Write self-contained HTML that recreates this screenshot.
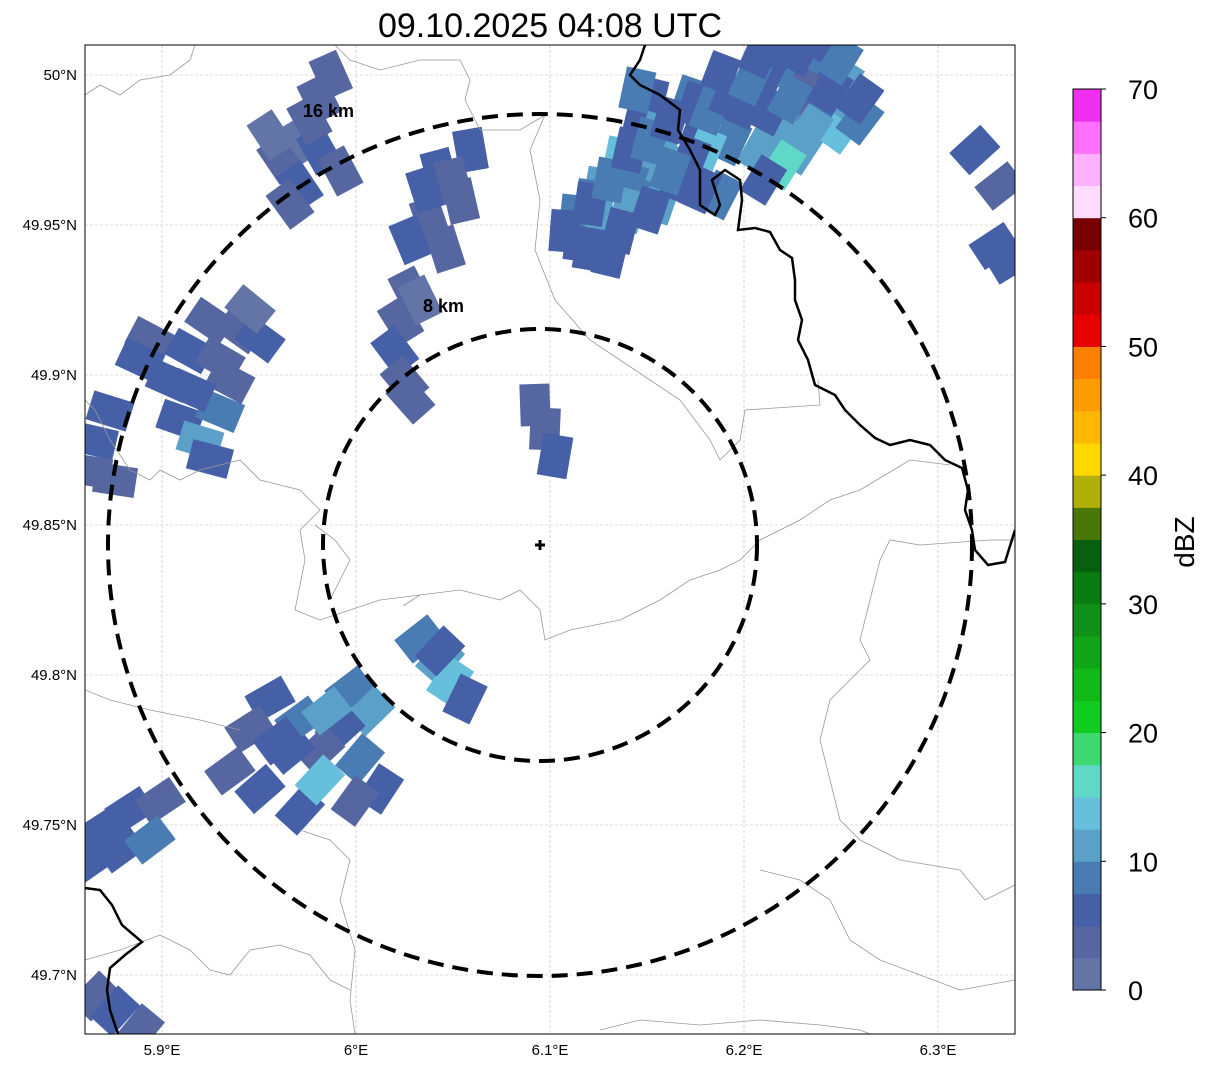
<!DOCTYPE html>
<html><head><meta charset="utf-8"><style>
body{margin:0;background:#fff;width:1207px;height:1069px;overflow:hidden;font-family:"Liberation Sans","DejaVu Sans",sans-serif}
</style></head><body>
<svg id="chart" width="1207" height="1069" xmlns="http://www.w3.org/2000/svg" font-family="Liberation Sans, DejaVu Sans, sans-serif">
<text x="550" y="37" font-size="34" text-anchor="middle">09.10.2025 04:08 UTC</text>
<defs><clipPath id="mapclip"><rect x="85" y="45" width="930" height="989"/></clipPath></defs>
<g id="grid"></g>
<g id="echoes" clip-path="url(#mapclip)"></g>
<g clip-path="url(#mapclip)" fill="none">
<path stroke="#999" stroke-width="0.8" d="M85,95 L100,85 L120,95 L140,80 L170,75 L190,60 L195,45 M335,45 L350,60 L380,70 L420,60 L460,60 L470,80 L465,100 L480,130 L520,130 L545,115 L530,150 L540,200 L535,250 L555,300 L590,340 L620,360 L650,380 L680,400 L710,440 L720,460 L740,440 L745,410 L820,405 L818,380 M85,400 L95,410 L110,440 L130,470 L150,480 L160,470 L180,480 L200,470 L240,460 L260,480 L300,490 L320,510 L300,530 L305,560 L295,610 L320,620 L350,610 L380,600 L420,595 L460,590 L500,600 L520,590 L540,610 L545,640 L570,630 L620,620 L660,600 L690,580 L720,570 L740,560 L760,540 L800,520 L830,500 L860,490 L910,460 L950,465 M315,525 L335,540 L350,560 L330,600 M403,606 L420,595 M1015,540 L990,540 L920,545 L890,540 L880,560 L870,600 L860,640 L870,660 L850,680 L830,700 L820,740 L830,780 L840,820 L860,840 L900,860 L960,870 L985,900 L1015,885 M85,690 L110,700 L150,710 L200,720 L240,730 M300,830 L330,840 L350,860 L340,900 L355,950 L350,1000 L355,1034 M85,960 L120,950 L160,935 L190,950 L210,970 L230,975 L250,950 L280,945 L310,955 L330,980 L350,990 M600,1030 L640,1020 L700,1025 L760,1020 L820,1025 L860,1030 L870,1034 M760,870 L800,880 L830,900 L850,940 L880,960 L920,975 L960,990 L1015,980"/>
<path stroke="#000" stroke-width="2.5" d="M645,45 L640,60 L630,75 L640,85 L660,95 L680,110 L678,130 L690,150 L700,170 L700,205 L715,215 L720,205 L712,180 L725,170 L740,180 L742,200 L738,230 L755,228 L770,232 L780,250 L792,258 L795,280 L795,300 L802,320 L798,340 L808,360 L815,385 L835,395 L845,410 L860,425 L875,438 L890,445 L910,440 L930,445 L945,460 L962,468 L968,490 L965,510 L972,530 L975,550 L988,565 L1005,562 L1015,530"/>
<path stroke="#000" stroke-width="2.5" d="M85,888 L100,890 L112,905 L122,925 L142,942 L125,955 L110,968 L107,990 L110,1010 L118,1034"/>
</g>
<g fill="none" stroke="#000" stroke-width="4" stroke-dasharray="16,9">
<ellipse cx="540" cy="545" rx="432" ry="431"/>
<ellipse cx="540" cy="545" rx="217" ry="216"/>
</g>
<text x="303" y="117" font-size="18" font-weight="bold">16 km</text>
<text x="423" y="312" font-size="18" font-weight="bold">8 km</text>
<path d="M540,540 V550 M535,545 H545" stroke="#000" stroke-width="3"/>
<rect x="85" y="45" width="930" height="989" fill="none" stroke="#000" stroke-width="1"/>
<g id="ticks" font-size="15"></g>
<g id="cbar"></g>
<text x="1194" y="542" font-size="28" text-anchor="middle" transform="rotate(-90 1194 542)">dBZ</text>
</svg>
<script>
const lonTicks=[5.9,6.0,6.1,6.2,6.3];
const lonLabels=["5.9°E","6°E","6.1°E","6.2°E","6.3°E"];
const latTicks=[50.0,49.95,49.9,49.85,49.8,49.75,49.7];
const latLabels=["50°N","49.95°N","49.9°N","49.85°N","49.8°N","49.75°N","49.7°N"];
const cbarTicks=[0,10,20,30,40,50,60,70];
const cbarColors=["#6374a6","#5566a0","#4560a6","#4a7cb4","#5aa0c8","#66c0dc","#60d8c8","#3ed870","#10cc20","#10b818","#10a418","#109018","#0a7c10","#066010","#4a7808","#b0b008","#ffd800","#ffb800","#ff9c00","#ff8000","#e80000","#c80000","#a00000","#780000","#ffdcff","#ffb0ff","#ff70ff","#f030f0"];
const radarLon=6.0948, radarLat=49.8433;
// echo cells: lon, lat, dBZ
const cellLon=[5.987,5.981,5.971,5.961,5.981,5.992,5.971,5.966,5.956,5.976,
6.059,6.043,6.054,6.038,6.028,6.046,6.036,6.050,
6.028,6.023,6.020,6.025,6.028,6.033,
6.1155,6.113,6.1258,6.1258,6.136,6.1464,6.1567,6.1464,6.1722,6.1773,6.1876,6.198,6.2082,6.2186,6.2289,6.2392,6.2495,6.2186,6.2392,6.2546,6.2598,6.1567,6.1309,6.167,6.2082,6.1928,6.2289,6.1515,6.121,6.14,6.16,6.18,6.2,6.22,6.24,6.1876,6.21,6.23,6.175,6.155,6.145,6.25,
6.1206,6.1309,6.1412,6.1515,6.1619,6.1722,6.1825,6.1928,6.2031,6.2134,6.2237,6.234,6.2443,6.2082,6.2289,6.2495,6.2598,6.1773,6.1619,6.1515,6.1361,6.1077,6.1206,
5.8938,5.9041,5.9144,5.9247,5.9402,5.9505,5.9093,5.9196,5.9299,5.935,5.9247,5.8887,5.9454,5.915,5.93,
5.8655,5.8732,5.8758,5.8629,
6.0923,6.0974,6.1026,
6.033,6.0433,6.0485,6.0562,6.0433,
5.9969,6.0072,5.9918,6.0021,6.0124,5.9814,5.966,5.9557,5.9454,5.935,5.9505,5.9711,5.9814,5.9711,5.9995,5.985,5.96,
5.868,5.8835,5.899,5.8784,5.8938,5.8629,
5.8655,5.8758,5.8887,
6.319,6.332,6.329,6.337];
const cellLat=[50.000,49.992,49.978,49.972,49.975,49.968,49.963,49.957,49.980,49.985,
49.975,49.968,49.958,49.952,49.945,49.942,49.962,49.965,
49.928,49.918,49.908,49.898,49.892,49.925,
49.945,49.953,49.950,49.962,49.972,49.965,49.975,49.985,49.992,49.982,50.000,49.988,49.995,49.982,49.975,49.988,49.982,50.005,50.005,49.992,49.985,49.958,49.940,49.965,49.975,49.978,50.000,49.992,49.958,49.955,49.97,49.975,49.99,49.97,49.99,49.96,49.965,49.995,49.99,49.98,49.995,49.998,
49.957,49.965,49.975,49.978,49.985,49.972,49.988,49.993,49.998,49.988,49.992,49.982,49.995,50.007,50.008,50.005,49.992,49.962,49.968,49.955,49.948,49.948,49.942,
49.912,49.898,49.908,49.918,49.915,49.912,49.885,49.878,49.888,49.898,49.872,49.905,49.922,49.895,49.905,
49.878,49.888,49.865,49.868,
49.890,49.882,49.873,
49.812,49.805,49.798,49.792,49.808,
49.795,49.788,49.782,49.772,49.762,49.775,49.775,49.792,49.782,49.768,49.762,49.755,49.765,49.785,49.758,49.788,49.778,
49.748,49.755,49.758,49.742,49.745,49.738,
49.693,49.688,49.682,
49.975,49.963,49.943,49.938];
const cellVal=[3,4,2,3,6,3,5,4,2,3,
5,6,4,3,5,4,6,3,
3,4,5,3,4,2,
6,8,12,10,14,9,11,7,8,6,5,9,7,10,12,8,13,5,6,12,9,10,7,6,11,8,9,5,8,10,12,13,7,15,9,8,6,4,7,11,9,10,
7,8,6,9,7,5,8,6,9,7,8,10,6,5,7,8,6,5,8,7,6,5,6,
3,5,6,4,3,7,5,10,8,4,7,5,2,6,3,
5,6,4,3,
3,4,5,
8,12,14,7,6,
9,12,6,8,5,4,7,5,3,4,6,5,13,8,4,10,5,
6,5,4,7,9,5,
4,5,3,
5,4,6,5];
const X=lon=>162+(lon-5.9)*1940;
const Y=lat=>75+(50-lat)*3000;
const NS="http://www.w3.org/2000/svg";
function colorFor(v){return cbarColors[Math.max(0,Math.min(27,Math.floor(v/2.5)))];}
const grid=document.getElementById('grid');
lonTicks.forEach(function(t,i){
  const l=document.createElementNS(NS,'line');
  
  
  l.setAttribute('x1',X(t));l.setAttribute('x2',X(t));l.setAttribute('y1',45);l.setAttribute('y2',1034);
  l.setAttribute('stroke','#bbb');l.setAttribute('stroke-width','0.6');l.setAttribute('stroke-dasharray','3,2');
  grid.appendChild(l);
});
latTicks.forEach(function(t,i){
  const l=document.createElementNS(NS,'line');
  
  
  l.setAttribute('y1',Y(t));l.setAttribute('y2',Y(t));l.setAttribute('x1',85);l.setAttribute('x2',1015);
  l.setAttribute('stroke','#bbb');l.setAttribute('stroke-width','0.6');l.setAttribute('stroke-dasharray','3,2');
  grid.appendChild(l);
});
const echoes=document.getElementById('echoes');
cellLon.forEach(function(lon,i){
  const cx=X(lon), cy=Y(cellLat[i]);
  const ang=Math.atan2(cy-Y(radarLat),cx-X(radarLon))*180/Math.PI;
  const r=document.createElementNS(NS,'rect');
  
  
  r.setAttribute('x',cx-21);r.setAttribute('y',cy-15);r.setAttribute('width',42);r.setAttribute('height',30);
  r.setAttribute('fill',colorFor(cellVal[i]));
  r.setAttribute('transform','rotate('+ang+' '+cx+' '+cy+')');
  echoes.appendChild(r);
});
const ticks=document.getElementById('ticks');
lonTicks.forEach(function(t,i){
  const tx=document.createElementNS(NS,'text');
  
  
  tx.setAttribute('x',X(t));tx.setAttribute('y',1055);tx.setAttribute('text-anchor','middle');
  tx.textContent=lonLabels[i];ticks.appendChild(tx);
});
latTicks.forEach(function(t,i){
  const tx=document.createElementNS(NS,'text');
  
  
  tx.setAttribute('x',77);tx.setAttribute('y',Y(t)+5);tx.setAttribute('text-anchor','end');
  tx.textContent=latLabels[i];ticks.appendChild(tx);
});
const cb=document.getElementById('cbar');
const CY=v=>990-v/70*901;
cbarColors.forEach(function(c,i){
  const r=document.createElementNS(NS,'rect');
  
  
  r.setAttribute('x',1073);r.setAttribute('width',28);
  r.setAttribute('y',CY((i+1)*2.5));r.setAttribute('height',CY(i*2.5)-CY((i+1)*2.5)+0.5);
  r.setAttribute('fill',c);cb.appendChild(r);
});
const fr=document.createElementNS(NS,'rect');


fr.setAttribute('x',1073);fr.setAttribute('y',89);fr.setAttribute('width',28);fr.setAttribute('height',901);
fr.setAttribute('fill','none');fr.setAttribute('stroke','#000');cb.appendChild(fr);
cbarTicks.forEach(function(t){
  const l=document.createElementNS(NS,'line');
  
  
  l.setAttribute('x1',1101);l.setAttribute('x2',1106);l.setAttribute('y1',CY(t));l.setAttribute('y2',CY(t));
  l.setAttribute('stroke','#000');cb.appendChild(l);
  const tx=document.createElementNS(NS,'text');
  
  
  tx.setAttribute('x',1128);tx.setAttribute('y',CY(t)+10);tx.setAttribute('font-size','27');
  tx.textContent=t;cb.appendChild(tx);
});
</script>
</body></html>
